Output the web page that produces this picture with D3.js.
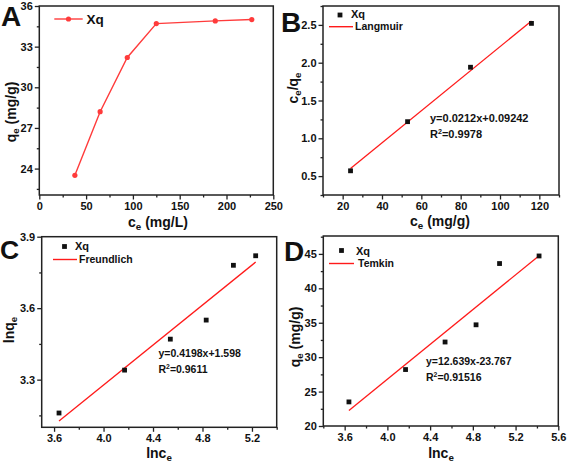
<!DOCTYPE html>
<html><head><meta charset="utf-8">
<script src="https://cdn.jsdelivr.net/npm/d3@7"></script>
<style>body{margin:0;background:#fff}svg{display:block;font-family:Arial,"Liberation Sans",sans-serif}</style>
</head><body><svg width="567" height="465"></svg>
<script>
// ---- Panel A data ----
const ceA = [38, 65, 94, 125, 188, 227];
const qeA = [23.5, 28.2, 32.2, 34.7, 34.9, 35.0];
const ticksAX = [0, 50, 100, 150, 200, 250];
const ticksAY = [24, 27, 30, 33, 36];
// ---- Panel B data (Langmuir) ----
const ceB = [24, 53, 85, 116];
const ceqeB = [0.57, 1.22, 1.94, 2.52];
const fitB = [0.0212, 0.09242];
const ticksBX = [20, 40, 60, 80, 100, 120];
const ticksBY = [0.5, 1.0, 1.5, 2.0, 2.5];
// ---- Panel C data (Freundlich) ----
const lnceC = [3.64, 4.17, 4.54, 4.83, 5.05, 5.23];
const lnqeC = [3.16, 3.34, 3.47, 3.55, 3.78, 3.82];
const fitC = [0.4198, 1.598];
const ticksCX = [3.6, 4.0, 4.4, 4.8, 5.2];
const ticksCY = [3.3, 3.6, 3.9];
// ---- Panel D data (Temkin) ----
const lnceD = [3.64, 4.17, 4.54, 4.83, 5.05, 5.42];
const qeD = [23.5, 28.2, 32.2, 34.7, 43.6, 44.7];
const fitD = [12.639, -23.767];
const ticksDX = [3.6, 4.0, 4.4, 4.8, 5.2, 5.6];
const ticksDY = [20, 25, 30, 35, 40, 45];

const svg = d3.select("svg");
const RED = "#ff1a1a";
const AX = "#222";

function mids(t, lo, hi) {
  const step = t[1] - t[0];
  const out = [];
  for (let v = t[0] - step / 2; v <= hi + 1e-9; v += step) if (v >= lo - 1e-9) out.push(+v.toFixed(4));
  return out;
}

function panel(p) {
  const g = svg.append("g");
  const x = d3.scaleLinear().domain(p.xDom).range([p.x0, p.x1]);
  const y = d3.scaleLinear().domain(p.yDom).range([p.y1, p.y0]);
  const xm = g.append("g").attr("transform", `translate(0,${p.y1})`)
    .call(d3.axisBottom(x).tickValues(mids(p.xT, p.xDom[0], p.xDom[1])).tickSize(2.5).tickFormat(""));
  const ym = g.append("g").attr("transform", `translate(${p.x0},0)`)
    .call(d3.axisLeft(y).tickValues(mids(p.yT, p.yDom[0], p.yDom[1])).tickSize(2.5).tickFormat(""));
  const xa = g.append("g").attr("transform", `translate(0,${p.y1})`)
    .call(d3.axisBottom(x).tickValues(p.xT).tickSize(4.5).tickPadding(2.5).tickFormat(p.xF));
  const ya = g.append("g").attr("transform", `translate(${p.x0},0)`)
    .call(d3.axisLeft(y).tickValues(p.yT).tickSize(4.5).tickPadding(2).tickFormat(p.yF));
  [xm, ym, xa, ya].forEach(a => {
    a.select(".domain").remove();
    a.selectAll("line").attr("stroke", AX).attr("stroke-width", 1.3);
    a.selectAll("text").attr("font-size", 11).attr("font-weight", "bold").attr("fill", "#111")
      .attr("font-family", "Arial, 'Liberation Sans', sans-serif");
  });
  g.append("rect").attr("x", p.x0).attr("y", p.y0).attr("width", p.x1 - p.x0).attr("height", p.y1 - p.y0)
    .attr("fill", "none").attr("stroke", AX).attr("stroke-width", 1.5);
  return { g, x, y };
}

function sub(t, base, s, rest) {
  t.append("tspan").text(base);
  t.append("tspan").attr("dy", 3).attr("font-size", "70%").text(s);
  if (rest) t.append("tspan").attr("dy", -3).text(rest);
}

function label(txt, x, y, size, weight, anchor) {
  return svg.append("text").attr("x", x).attr("y", y).attr("font-size", size)
    .attr("font-weight", weight || "bold").attr("text-anchor", anchor || "start").attr("fill", "#111").text(txt);
}

function ytitle(x, y, base, s, rest) {
  const t = svg.append("text").attr("transform", `translate(${x},${y}) rotate(-90)`)
    .attr("text-anchor", "middle").attr("font-size", 14).attr("font-weight", "bold").attr("fill", "#111");
  sub(t, base, s, rest);
}
function xtitle(x, y, base, s, rest) {
  const t = svg.append("text").attr("x", x).attr("y", y)
    .attr("text-anchor", "middle").attr("font-size", 14).attr("font-weight", "bold").attr("fill", "#111");
  sub(t, base, s, rest);
}
function eq(x, y, line1, r2, size) {
  label(line1, x, y, size);
  const t = svg.append("text").attr("x", x).attr("y", y + 15.5).attr("font-size", size)
    .attr("font-weight", "bold").attr("fill", "#111");
  t.append("tspan").text("R");
  t.append("tspan").attr("dy", -4).attr("font-size", "65%").text("2");
  t.append("tspan").attr("dy", 4).text("=" + r2);
}
function squares(P, xs, ys) {
  P.g.selectAll(null).data(xs).join("rect")
    .attr("x", (d) => P.x(d) - 2.4).attr("y", (d, i) => P.y(ys[i]) - 2.4)
    .attr("width", 4.8).attr("height", 4.8).attr("fill", "#111");
}
function fitLine(P, xs, coef) {
  const ext = d3.extent(xs);
  P.g.append("path").datum(ext)
    .attr("d", d3.line().x(d => P.x(d)).y(d => P.y(coef[0] * d + coef[1])))
    .attr("fill", "none").attr("stroke", RED).attr("stroke-width", 1.3);
}
function legend(sx, sy, lx0, lx1, ly, name, tx1, ty1, tx2, ty2) {
  svg.append("rect").attr("x", sx - 2.4).attr("y", sy - 2.4).attr("width", 4.8).attr("height", 4.8).attr("fill", "#111");
  label("Xq", tx1, ty1, 11);
  svg.append("line").attr("x1", lx0).attr("x2", lx1).attr("y1", ly).attr("y2", ly).attr("stroke", RED).attr("stroke-width", 1.4);
  label(name, tx2, ty2, 10.5);
}

const f1 = d3.format(".1f");

// ---------- A ----------
const A = panel({ x0: 39.3, x1: 273.3, y0: 6, y1: 195, xDom: [0, 250], yDom: [22.05, 36],
  xT: ticksAX, yT: ticksAY, xF: d3.format("d"), yF: d3.format("d") });
A.g.append("path").datum(ceA)
  .attr("d", d3.line().x(d => A.x(d)).y((d, i) => A.y(qeA[i])))
  .attr("fill", "none").attr("stroke", "#ff3b3b").attr("stroke-width", 1.4);
A.g.selectAll(null).data(ceA).join("circle")
  .attr("cx", d => A.x(d)).attr("cy", (d, i) => A.y(qeA[i])).attr("r", 2.6).attr("fill", "#ff3b3b");
svg.append("line").attr("x1", 54.3).attr("x2", 82.7).attr("y1", 19).attr("y2", 19).attr("stroke", "#ff3b3b").attr("stroke-width", 1.4);
svg.append("circle").attr("cx", 68.5).attr("cy", 19).attr("r", 2.6).attr("fill", "#ff3b3b");
label("Xq", 86.5, 24, 13.5);
xtitle(158, 227, "c", "e", " (mg/L)");
ytitle(15.5, 112, "q", "e", " (mg/g)");
label("A", 1, 26, 28);

// ---------- B ----------
const B = panel({ x0: 323, x1: 559, y0: 6, y1: 195, xDom: [10, 130], yDom: [0.25, 2.75],
  xT: ticksBX, yT: ticksBY, xF: d3.format("d"), yF: f1 });
fitLine(B, ceB, fitB);
squares(B, ceB, ceqeB);
legend(340, 15, 329, 353, 26.7, "Langmuir", 351, 18, 355, 30);
eq(430, 122, "y=0.0212x+0.09242", "0.9978", 11);
xtitle(440, 226, "c", "e", " (mg/g)");
{
  const t = svg.append("text").attr("transform", "translate(298,88) rotate(-90)")
    .attr("text-anchor", "middle").attr("font-size", 14).attr("font-weight", "bold").attr("fill", "#111");
  t.append("tspan").text("c");
  t.append("tspan").attr("dy", 3).attr("font-size", "70%").text("e");
  t.append("tspan").attr("dy", -3).text("/q");
  t.append("tspan").attr("dy", 3).attr("font-size", "70%").text("e");
}
label("B", 281, 32, 28);

// ---------- C ----------
const C = panel({ x0: 41.7, x1: 276.7, y0: 236.7, y1: 427.3, xDom: [3.5, 5.4], yDom: [3.1, 3.9],
  xT: ticksCX, yT: ticksCY, xF: f1, yF: f1 });
fitLine(C, lnceC, fitC);
squares(C, lnceC, lnqeC);
legend(64.5, 246.5, 53, 77, 259.5, "Freundlich", 75, 250, 79, 263);
eq(158.5, 357, "y=0.4198x+1.598", "0.9611", 10.5);
xtitle(159, 458, "lnc", "e", "");
ytitle(14, 330, "lnq", "e", "");
label("C", 0, 259, 26.5);

// ---------- D ----------
const D = panel({ x0: 323.3, x1: 558.3, y0: 236, y1: 426, xDom: [3.4, 5.6], yDom: [20, 47.6],
  xT: ticksDX, yT: ticksDY, xF: f1, yF: d3.format("d") });
fitLine(D, lnceD, fitD);
squares(D, lnceD, qeD);
legend(341.5, 250.5, 329, 354, 263.5, "Temkin", 356, 254.5, 358, 267);
eq(426, 365, "y=12.639x-23.767", "0.91516", 10.5);
xtitle(441, 458, "lnc", "e", "");
ytitle(300, 337, "q", "e", " (mg/g)");
label("D", 284, 261, 28);
</script></body></html>
